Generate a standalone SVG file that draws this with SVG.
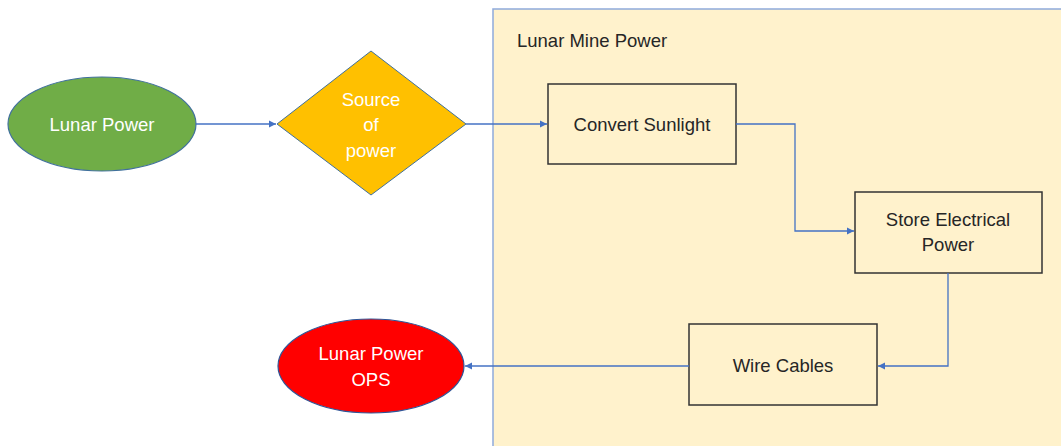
<svg xmlns="http://www.w3.org/2000/svg" width="1061" height="446" viewBox="0 0 1061 446">
<style>
text{font-family:"Liberation Sans",Arial,sans-serif;font-size:18.5px;text-anchor:middle;dominant-baseline:central}
.w{fill:#FFFFFF}
.d{fill:#262626}
.box{fill:#FFF2CC;stroke:#333333;stroke-width:1.5}
.con{fill:none;stroke:#4472C4;stroke-width:1.3}
</style>
<defs>
<marker id="ah" markerWidth="8" markerHeight="8" refX="7" refY="4" orient="auto" markerUnits="userSpaceOnUse">
<path d="M0,0.5 L7,4 L0,7.5 Z" fill="#4472C4"/>
</marker>
</defs>
<rect width="1061" height="446" fill="#FFFFFF"/>
<g id="container">
<rect x="493" y="9" width="580" height="450" fill="#FFF2CC" stroke="#8FAADC" stroke-width="1.5"/>
<text x="517" y="40" class="d" style="text-anchor:start">Lunar Mine Power</text>
</g>
<g id="lunar-power">
<ellipse cx="102" cy="124" rx="94" ry="47" fill="#70AD47" stroke="#41719C" stroke-width="1.2"/>
<text x="102" y="124" class="w">Lunar Power</text>
</g>
<g id="source-of-power">
<polygon points="371,51 466,124 371,195 277,124" fill="#FFC000" stroke="#41719C" stroke-width="1"/>
<text x="371" y="99" class="w">Source</text>
<text x="371" y="124" class="w">of</text>
<text x="371" y="150" class="w">power</text>
</g>
<g id="convert-sunlight">
<rect x="548" y="84" width="188" height="80" class="box"/>
<text x="642" y="124" class="d">Convert Sunlight</text>
</g>
<g id="store-electrical-power">
<rect x="855" y="192" width="187" height="81" class="box"/>
<text x="948" y="219" class="d">Store Electrical</text>
<text x="948" y="244" class="d">Power</text>
</g>
<g id="wire-cables">
<rect x="689" y="324" width="188" height="81" class="box"/>
<text x="783" y="365" class="d">Wire Cables</text>
</g>
<g id="lunar-power-ops">
<ellipse cx="371" cy="366" rx="93" ry="47" fill="#FF0000" stroke="#2F5597" stroke-width="1.2"/>
<text x="371" y="353" class="w">Lunar Power</text>
<text x="371" y="379" class="w">OPS</text>
</g>
<g id="connectors">
<path d="M196,124 H276" class="con" marker-end="url(#ah)"/>
<path d="M466,124 H547" class="con" marker-end="url(#ah)"/>
<path d="M736,124 H795 V231 H854" class="con" marker-end="url(#ah)"/>
<path d="M948,273 V366 H878" class="con" marker-end="url(#ah)"/>
<path d="M689,366 H465" class="con" marker-end="url(#ah)"/>
</g>
</svg>
